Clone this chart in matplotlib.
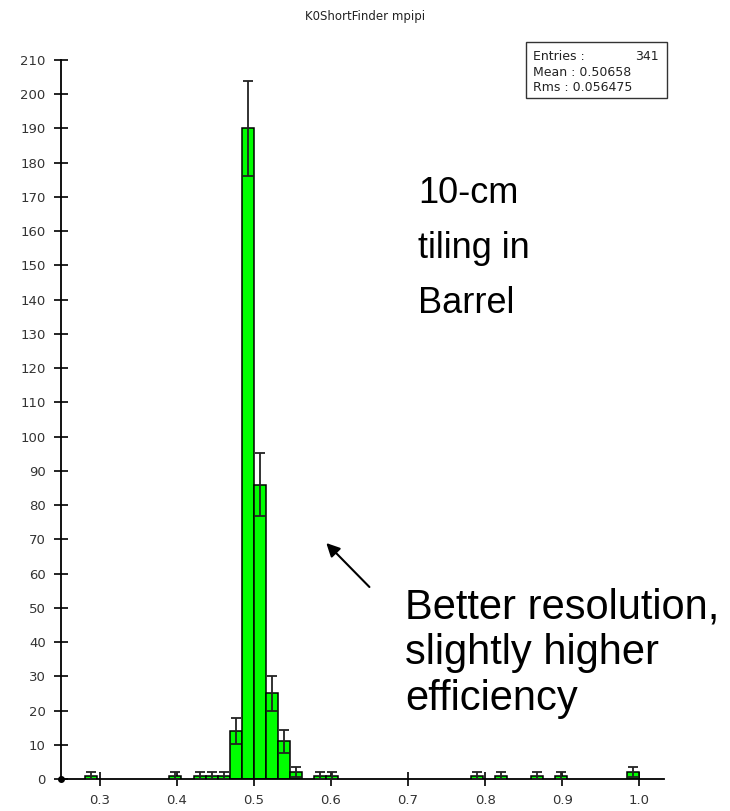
import numpy as np
import matplotlib.pyplot as plt
from matplotlib.patches import Rectangle

# K0 -> pi+ pi- invariant mass, 64 bins over [0, 1]
n_bins = 64
filled_bins = [18, 25, 27, 28, 29, 30, 31, 32, 33, 34, 35, 37, 38, 50, 52, 55, 57, 63]
counts = [1, 1, 1, 1, 1, 14, 190, 86, 25, 11, 2, 1, 1, 1, 1, 1, 1, 2]

x_ticks = [0.3, 0.4, 0.5, 0.6, 0.7, 0.8, 0.9, 1.0]
y_ticks = list(range(0, 211, 10))

stats_rows = [("Entries :", "341"), ("Mean : 0.50658", ""), ("Rms : 0.056475", "")]
note_top = ["10-cm", "tiling in", "Barrel"]
note_bottom = ["Better resolution,", "slightly higher", "efficiency"]

W, H = 730, 811


def fx(px):
    return px / W


def fy(py):
    return 1 - py / H


width = 1.0 / n_bins
lo = np.array(filled_bins) * width
n = np.array(counts, dtype=float)
err = np.sqrt(n)

fig = plt.figure(figsize=(W / 100, H / 100), dpi=100)
ax = fig.add_axes([fx(61), fy(779), (664 - 61) / W, (779 - 60) / H])

ax.bar(lo, n, width=width, align='edge', color='#00ff00',
       edgecolor='black', linewidth=1.1, zorder=2)
ax.errorbar(lo + width / 2, n, yerr=err, fmt='none', ecolor='#222222',
            elinewidth=1.3, capsize=3.9, capthick=1.3, zorder=3)

ax.set_xlim(0.25, 1.032)
ax.set_ylim(0, 210)
ax.set_xticks(x_ticks)
ax.set_xticklabels([f"{v:.1f}" for v in x_ticks])
ax.set_yticks(y_ticks)
for side in ("top", "right"):
    ax.spines[side].set_visible(False)
for side in ("left", "bottom"):
    ax.spines[side].set_linewidth(1.3)
ax.tick_params(direction='inout', length=10, width=1.2, labelsize=9.5,
               labelcolor='#333333')
ax.tick_params(axis='y', pad=6)
ax.tick_params(axis='x', pad=6)
ax.plot(0.25, 0, 'o', color='black', ms=4, clip_on=False, zorder=5)

fig.text(fx(365), fy(20), "K0ShortFinder mpipi", ha='center', va='baseline',
         fontsize=8.5, color='#222222')

# statistics box
fig.patches.append(Rectangle((fx(526), fy(98)), (667 - 526) / W, (98 - 42) / H,
                             transform=fig.transFigure, fill=False,
                             edgecolor='#333333', linewidth=1.0))
for i, (left, right) in enumerate(stats_rows):
    base = fy(60 + 15.5 * i)
    fig.text(fx(533), base, left, ha='left', va='baseline', fontsize=9, color='#222222')
    if right:
        fig.text(fx(659), base, right, ha='right', va='baseline', fontsize=9, color='#222222')

for i, line in enumerate(note_top):
    fig.text(fx(418), fy(203 + 55 * i), line, ha='left', va='baseline',
             fontsize=26, family='Liberation Sans')
for i, line in enumerate(note_bottom):
    fig.text(fx(405), fy(618 + 46 * i), line, ha='left', va='baseline',
             fontsize=30, family='Liberation Sans')

ax.annotate('', xy=(0.5915, 69.5), xytext=(0.6525, 55.5),
            arrowprops=dict(arrowstyle='-|>', color='black', lw=1.5,
                            mutation_scale=20))

fig.savefig('out.png', dpi=100)
